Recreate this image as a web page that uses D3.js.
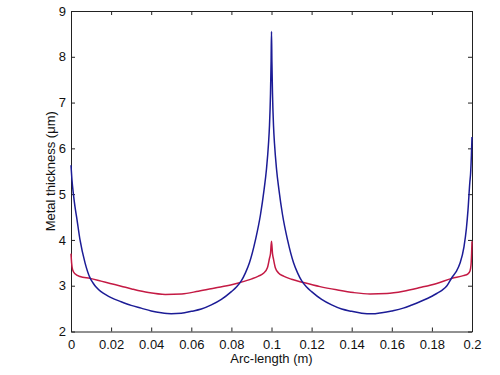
<!DOCTYPE html>
<html>
<head>
<meta charset="utf-8">
<script src="https://cdn.jsdelivr.net/npm/d3@7"></script>
<style>
  html, body { margin: 0; padding: 0; background: #fff; }
  svg { display: block; }
  text { font-family: "Liberation Sans", Arial, sans-serif; fill: #111; }
</style>
</head>
<body>
<svg id="chart" width="500" height="375"></svg>
<script>
// ---- data ----
const xTicks = [0, 0.02, 0.04, 0.06, 0.08, 0.1, 0.12, 0.14, 0.16, 0.18, 0.2];
const xTickLabels = ["0", "0.02", "0.04", "0.06", "0.08", "0.1", "0.12", "0.14", "0.16", "0.18", "0.2"];
const yTicks = [2, 3, 4, 5, 6, 7, 8, 9];
const yTickLabels = ["2", "3", "4", "5", "6", "7", "8", "9"];

const blueX = [
  0, 0.0005, 0.0012, 0.002, 0.0028, 0.0045, 0.007, 0.0095, 0.011, 0.0125, 0.015, 0.0175, 0.02, 0.025, 0.03, 0.035, 0.04, 0.045, 0.05,
  0.055, 0.06, 0.065, 0.07, 0.075, 0.08, 0.0825, 0.085, 0.087, 0.089, 0.092, 0.0945, 0.0963, 0.0975, 0.0985, 0.099, 0.0995, 0.0998, 0.1,
  0.1002, 0.1005, 0.101, 0.1015, 0.1025, 0.1037, 0.1055, 0.108, 0.111, 0.113, 0.115, 0.1175, 0.12, 0.125, 0.13, 0.135, 0.14, 0.145, 0.15,
  0.155, 0.16, 0.1657, 0.17, 0.174, 0.18, 0.1824, 0.185, 0.1875, 0.19, 0.192, 0.194, 0.196, 0.1972, 0.198, 0.1989, 0.1993, 0.1997, 0.2
];
const blueY = [
  5.63, 5.3, 5.0, 4.72, 4.5, 4.0, 3.5, 3.17, 3.06, 2.97, 2.87, 2.80, 2.74, 2.65, 2.57, 2.51, 2.45, 2.41, 2.39,
  2.40, 2.44, 2.49, 2.58, 2.70, 2.87, 2.97, 3.11, 3.28, 3.5, 4.0, 4.55, 5.1, 5.55, 6.1, 6.5, 7.2, 7.9, 8.55,
  7.9, 7.2, 6.5, 6.1, 5.55, 5.1, 4.55, 4.0, 3.5, 3.28, 3.11, 2.97, 2.87, 2.70, 2.58, 2.49, 2.44, 2.40, 2.385,
  2.41, 2.45, 2.51, 2.58, 2.65, 2.77, 2.83, 2.9, 3.0, 3.18, 3.3, 3.49, 3.85, 4.25, 4.65, 5.25, 5.45, 5.85, 6.25
];

const redX = [
  0, 0.0003, 0.0008, 0.002, 0.0045, 0.0095, 0.015, 0.0195, 0.025, 0.0303, 0.0386, 0.047, 0.0552, 0.0635, 0.0718, 0.0801,
  0.0835, 0.0902, 0.0935, 0.096, 0.098, 0.099, 0.0995, 0.1,
  0.1005, 0.101, 0.102, 0.1035, 0.106, 0.11, 0.1159, 0.1242, 0.1325, 0.1409, 0.1492, 0.1575, 0.1658, 0.1741, 0.1824,
  0.19, 0.1957, 0.198, 0.199, 0.1995, 0.1998, 0.2
];
const redY = [
  3.70, 3.5, 3.35, 3.26, 3.2, 3.16, 3.10, 3.05, 2.99, 2.93, 2.85, 2.81, 2.82, 2.88, 2.95, 3.02,
  3.06, 3.15, 3.21, 3.27, 3.4, 3.6, 3.7, 3.97,
  3.7, 3.58, 3.38, 3.28, 3.21, 3.14, 3.07, 2.98, 2.91, 2.85, 2.82, 2.83, 2.88, 2.96, 3.05,
  3.16, 3.22, 3.26, 3.32, 3.45, 3.7, 3.97
];

const xTitle = "Arc-length (m)";
const yTitle = "Metal thickness (\u03bcm)";

// ---- layout ----
const svg = d3.select("#chart");
const mLeft = 71, mRight = 472, mTop = 11, mBottom = 331.5;

const x = d3.scaleLinear().domain([0, 0.2]).range([mLeft, mRight]);
const y = d3.scaleLinear().domain([2, 9]).range([mBottom, mTop]);

const g = svg.append("g");

const fmtX = (d, i) => xTickLabels[i];
const fmtY = (d, i) => yTickLabels[i];

const axB = g.append("g").attr("transform", `translate(0,${mBottom})`)
  .call(d3.axisBottom(x).tickValues(xTicks).tickFormat(fmtX).tickSizeInner(-4).tickSizeOuter(0).tickPadding(8));
const axT = g.append("g").attr("transform", `translate(0,${mTop})`)
  .call(d3.axisTop(x).tickValues(xTicks).tickFormat("").tickSizeInner(-4).tickSizeOuter(0));
const axL = g.append("g").attr("transform", `translate(${mLeft},0)`)
  .call(d3.axisLeft(y).tickValues(yTicks).tickFormat(fmtY).tickSizeInner(-4).tickSizeOuter(0).tickPadding(5));
const axR = g.append("g").attr("transform", `translate(${mRight},0)`)
  .call(d3.axisRight(y).tickValues(yTicks).tickFormat("").tickSizeInner(-4).tickSizeOuter(0));

[axB, axT, axL, axR].forEach(a => {
  a.select(".domain").attr("stroke", "#222").attr("stroke-width", 1);
  a.selectAll(".tick line").attr("stroke", "#222");
  a.selectAll("text").attr("font-size", 13).attr("font-family", "Liberation Sans, Arial, sans-serif").attr("fill", "#111");
});

const line = d3.line().x(d => x(d[0])).y(d => y(d[1])).curve(d3.curveMonotoneX);
const redData = redX.map((v, i) => [v, redY[i]]);
const blueData = blueX.map((v, i) => [v, blueY[i]]);

g.append("path").datum(redData).attr("d", line)
  .attr("fill", "none").attr("stroke", "#c41a44").attr("stroke-width", 1.5);
g.append("path").datum(blueData).attr("d", line)
  .attr("fill", "none").attr("stroke", "#1c1c96").attr("stroke-width", 1.5);

g.append("text").attr("x", (mLeft + mRight) / 2).attr("y", 363)
  .attr("text-anchor", "middle").attr("font-size", 13).text(xTitle);
g.append("text").attr("transform", `translate(55,${(mTop + mBottom) / 2}) rotate(-90)`)
  .attr("text-anchor", "middle").attr("font-size", 13).text(yTitle);
</script>
</body>
</html>
